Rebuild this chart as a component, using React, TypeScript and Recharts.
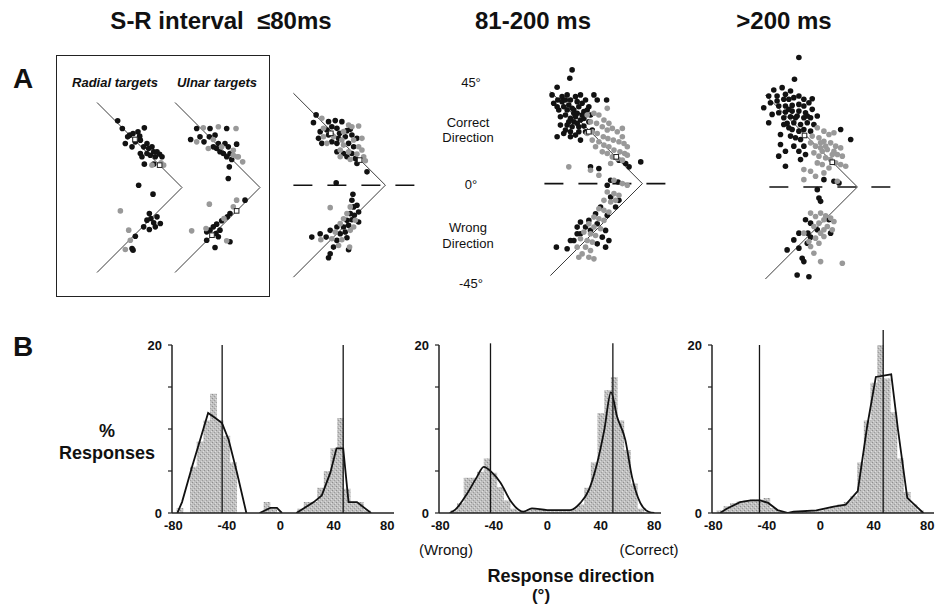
import React from 'react';
import {
  ScatterChart,
  Scatter,
  XAxis,
  YAxis,
  ComposedChart,
  Area,
  Line,
  ReferenceLine,
} from 'recharts';

const FONT = "'Liberation Sans', Arial, Helvetica, sans-serif";

// ---------- Panel A: response endpoints (arm units: V arms run from (0,±100) to apex (100,0)) ----------
const vLine: [number, number][] = [[0, 100], [100, 0], [0, -100]];

const radialBlack: [number, number][] = [
  [24.3, 78.4], [29.8, 69.4], [36.1, 59.6], [38.4, 61.6], [42.4, 63.5], [48.2, 65.5], [50.2, 60.4], [51.0, 55.7],
  [55.7, 70.2], [54.9, 47.8], [58.8, 51.8], [60.8, 45.9], [64.7, 47.8], [66.7, 42.0], [70.6, 42.0], [58.8, 40.0],
  [62.7, 38.0], [68.6, 36.1], [73.7, 39.2], [76.5, 36.1], [51.0, 40.0], [52.9, 36.1], [55.7, 27.5], [66.7, 27.5],
  [33.3, 51.8], [41.2, 47.8], [45.1, 53.7], [49.0, 2.7], [65.9, -7.8], [61.6, -30.6], [63.5, -36.5], [58.8, -38.4],
  [66.7, -41.6], [61.6, -49.4], [54.9, -46.3], [68.6, -46.3], [74.5, -42.4], [70.6, -34.5], [45.1, -57.3],
  [41.2, -71.8], [42.4, -73.7],
];
const radialGray: [number, number][] = [
  [64.7, 26.3], [75.3, 29.0], [78.4, 26.3], [27.5, -27.5], [37.3, -50.2], [39.2, -62.0], [33.3, -72.9],
];
const radialOpen: [number, number][] = [[44.7, 56.5], [73.7, 26.3]];

const ulnarBlack: [number, number][] = [
  [25.5, 69.4], [41.2, 69.4], [60.8, 69.4], [18.4, 56.5], [29.4, 59.6], [34.1, 53.7], [40.4, 59.6], [47.1, 61.6],
  [51.0, 51.8], [58.8, 51.8], [62.7, 47.8], [72.5, 51.0], [49.0, 45.9], [45.1, 47.8], [52.9, 42.0], [56.9, 40.0],
  [64.7, 40.0], [60.8, 36.1], [66.7, 32.9], [63.9, 24.3], [62.7, 10.6], [82.4, -14.9], [64.7, -30.6], [61.6, -34.5],
  [54.9, -39.2], [49.0, -43.1], [45.1, -46.3], [41.2, -50.2], [37.3, -52.2], [48.2, -54.1], [52.9, -50.2],
  [51.0, -58.0], [37.3, -62.0], [64.7, -63.9], [47.1, -70.6],
];
const ulnarGray: [number, number][] = [
  [33.3, 70.2], [51.0, 71.4], [71.8, 69.4], [25.5, 53.7], [45.1, 56.5], [54.9, 47.8], [68.6, 43.9], [39.2, 45.9],
  [68.6, 38.0], [74.5, 36.1], [79.6, 30.2], [73.3, 36.1], [40.4, -19.6], [72.5, -14.9], [68.6, -22.7],
  [57.6, -36.5], [36.5, -48.2], [19.6, -51.0], [60.8, -62.7],
];
const ulnarOpen: [number, number][] = [[72.5, -27.5], [43.5, -56.1]];

const early80Black: [number, number][] = [
  [24.7, 76.4], [21.8, 68.0], [38.2, 69.1], [45.5, 70.2], [52.7, 69.1], [29.1, 58.2], [36.4, 60.0], [41.8, 63.6],
  [47.3, 61.8], [50.2, 56.4], [58.2, 59.3], [61.8, 60.7], [27.3, 50.9], [38.2, 54.5], [49.1, 50.9], [56.4, 52.7],
  [63.6, 54.5], [69.1, 50.9], [30.9, 45.5], [41.8, 47.3], [47.3, 45.5], [60.0, 45.5], [65.5, 41.8], [47.3, 36.4],
  [54.5, 34.5], [63.6, 34.5], [67.3, 29.1], [58.2, 30.9], [69.1, 23.6], [80.0, 14.5], [46.5, 2.5], [64.7, -9.8],
  [63.6, -16.4], [65.5, -23.6], [69.1, -21.8], [61.8, -30.9], [66.2, -32.7], [70.9, -29.1], [58.2, -38.2],
  [63.6, -37.5], [70.9, -40.0], [47.3, -45.5], [54.5, -45.5], [60.0, -43.6], [40.0, -49.1], [50.9, -52.7],
  [56.4, -50.9], [29.1, -52.7], [35.6, -56.4], [47.3, -60.0], [58.2, -57.1], [20.0, -56.4], [43.6, -67.3],
  [40.0, -74.5], [38.2, -78.9], [60.0, -70.2],
];
const early80Gray: [number, number][] = [
  [30.9, 72.7], [60.0, 65.5], [32.7, 61.8], [54.5, 58.2], [63.6, 63.6], [70.9, 64.4], [32.7, 52.7], [43.6, 52.7],
  [52.7, 49.1], [65.5, 49.1], [74.5, 50.9], [36.4, 45.5], [54.5, 43.6], [70.9, 41.8], [74.5, 38.2], [50.9, 38.2],
  [60.0, 36.4], [69.1, 33.8], [76.4, 30.9], [61.8, 28.0], [78.2, 26.5], [50.9, 30.9], [40.0, -24.4], [61.8, -23.6],
  [58.2, -30.9], [54.5, -36.4], [67.3, -38.2], [50.9, -41.8], [65.5, -45.5], [45.5, -50.9], [61.8, -49.1],
  [41.8, -58.2], [52.7, -59.3], [29.8, -59.3], [49.1, -65.5], [61.1, -67.3],
];
const early80Open: [number, number][] = [[40.7, 56.4], [72.0, 27.3]];
const early80Zero: [number, number][] = [[0, 0], [133, 0]];

const mid200Black: [number, number][] = [
  [23.6, 123.6], [21.1, 114.5], [7.3, 104.7], [1.8, 96.4], [3.6, 87.3], [8, 90.9], [12.7, 94.5], [18.2, 96.4],
  [21.8, 90.9], [27.3, 94.5], [32.7, 96.4], [38.2, 90.9], [47.3, 96.4], [61.1, 90.9], [50.9, 90.9], [9.1, 80],
  [14.5, 83.6], [20, 85.5], [25.5, 80], [30.9, 83.6], [36.4, 78.2], [41.8, 83.6], [10.9, 72.7], [16.4, 74.5],
  [21.8, 70.9], [27.3, 72.7], [32.7, 69.1], [18.2, 63.6], [23.6, 61.8], [29.1, 65.5], [36.4, 62.5], [14.5, 54.5],
  [21.8, 50.9], [30.9, 56.4], [38.2, 56.4], [25.5, 76.4], [18.2, 80], [29.1, 89.1], [34.5, 87.3], [12.7, 89.1],
  [7.3, 83.6], [43.6, 74.5], [21.8, 56.4], [45.5, 58.2], [36.4, 70.9], [41.8, 67.3], [7.3, 50.9], [32.7, 47.3],
  [16.4, 90.9], [23.6, 81.8], [29.1, 76.4], [34.5, 74.5], [40, 80], [20, 67.3], [25.5, 67.3], [30.9, 61.8],
  [10.9, 63.6], [16.4, 58.2], [27.3, 52.7],
  [74.5, 25.5], [81.8, 21.8], [85.5, 18.2], [98.2, 23.6], [69.8, 29.1], [65.5, 3.6], [61.8, -1.8], [73.5, 1.8],
  [43.6, 18.2], [52.7, 16.4],
  [65.5, -14.5], [70.9, -25.5], [74.5, -18.2], [61.8, -34.5], [49.1, -32.7], [54.5, -25.5], [41.8, -40],
  [32.7, -41.8], [29.1, -47.3], [38.2, -47.3], [50.9, -43.6], [60, -50.9], [56.4, -58.2], [50.9, -65.5],
  [43.6, -50.9], [32.7, -54.5], [25.5, -61.8], [21.8, -61.8], [18.2, -70.9], [6.5, -69.1], [29.1, -54.5],
  [60, -69.1], [63.6, -61.8],
];
const mid200Gray: [number, number][] = [
  [40, 74.5], [47.3, 76.4], [52.7, 74.5], [58.2, 69.1], [63.6, 65.5], [43.6, 67.3], [50.2, 65.5], [56.4, 61.8],
  [61.8, 58.2], [67.3, 60], [72.7, 56.4], [78.2, 60], [45.5, 56.4], [50.9, 54.5], [57.5, 50.9], [62.5, 49.1],
  [68.4, 47.3], [74.5, 45.5], [80, 43.6], [83.6, 40], [52.7, 45.5], [58.2, 41.8], [63.6, 40], [69.1, 36.4],
  [75.6, 34.5], [80.7, 32.7], [49.1, 40], [56.4, 34.5], [61.8, 32.7], [67.3, 29.1], [72.7, 27.3], [78.2, 25.5],
  [65.5, 21.8], [40, 54.5], [45.5, 47.3], [83.6, 30.9], [61.8, 81.8], [78.2, 50.9], [20, 18.2], [43.6, 14.5],
  [52.7, 9.1],
  [69.1, 3.6], [78.2, 0], [83.6, -1.8], [61.8, -9.1], [69.1, -10.9], [74.5, -12.7], [58.2, -18.2], [65.5, -20],
  [70.9, -18.2], [52.7, -27.3], [58.2, -29.1], [63.6, -30.9], [47.3, -36.4], [52.7, -38.2], [58.2, -40],
  [41.8, -43.6], [47.3, -47.3], [54.5, -49.1], [36.4, -52.7], [43.6, -54.5], [49.1, -56.4], [32.7, -60],
  [40, -61.8], [45.5, -63.6], [38.2, -69.1], [43.6, -72.7], [34.5, -76.4], [41.8, -80], [47.3, -81.8],
  [29.1, -69.1], [30.9, -80],
];
const mid200Open: [number, number][] = [[41.8, 56.4], [71.6, 29.1]];
const mid200Zero: [number, number][] = [[-6.5, 0], [127, 0]];

const late200Black: [number, number][] = [
  [36.4, 140.7], [31.6, 117.1], [18.2, 108], [9.1, 105.5], [3.6, 98.9], [12.7, 98.9], [21.8, 100.7], [27.3, 104.4],
  [-1.8, 86.2], [5.5, 91.6], [12.7, 93.5], [20, 95.3], [25.5, 95.3], [30.9, 97.1], [36.4, 98.9], [41.8, 95.3],
  [50.9, 96], [47.3, 91.6], [41.8, 88], [36.4, 89.8], [29.1, 88.7], [21.8, 88], [14.5, 88], [7.3, 78.9],
  [14.5, 80.7], [21.8, 81.5], [29.1, 82.5], [36.4, 82.5], [43.6, 80.7], [50.9, 84.4], [56.4, 77.1], [49.1, 75.3],
  [41.8, 75.3], [34.5, 77.1], [27.3, 76.4], [20, 75.3], [3.6, 69.8], [23.6, 69.1], [30.9, 69.8], [38.2, 68],
  [45.5, 69.8], [52.7, 68], [29.1, 62.5], [36.4, 60.7], [41.8, 62.5], [49.1, 60.7], [16.4, 57.1], [27.3, 55.3],
  [32.7, 53.5], [38.2, 51.6], [41.8, 44.4], [36.4, 38.9], [30.9, 44.4], [16.4, 46.2], [14.5, 33.5], [21.8, 22.5],
  [38.2, 29.8], [43.6, 35.3], [21.8, 38.9], [25.5, 84.4], [32.7, 75.3], [25.5, 64.4], [20, 68], [45.5, 77.1],
  [81.8, 62.5], [92.7, 51.6],
  [63.6, 8], [74.5, 6.2], [80, 4.4], [56.4, -2.9], [58.2, -12], [60, -15.6],
  [43.6, -35.6], [49.1, -39.3], [69.1, -35.6], [56.4, -46.5], [46.2, -50.2], [49.1, -54.5], [70.9, -50.2],
  [36.4, -50.2], [30.9, -57.5], [23.6, -68.4], [36.4, -66.5], [40, -77.5], [41.8, -81.1], [45.5, -61.1],
  [34.5, -95.6], [47.3, -97.5],
];
const late200Gray: [number, number][] = [
  [56.4, 64.4], [63.6, 60.7], [69.1, 57.1], [74.5, 58.9], [50.9, 55.3], [58.2, 53.5], [63.6, 49.8], [70.9, 48],
  [76.4, 44.4], [81.8, 42.5], [49.1, 48], [54.5, 44.4], [60, 42.5], [67.3, 40.7], [72.7, 35.3], [78.2, 35.3],
  [83.6, 33.5], [52.7, 37.1], [58.2, 33.5], [65.5, 31.6], [70.9, 29.8], [76.4, 26.2], [81.8, 24.4], [56.4, 26.2],
  [61.8, 24.4], [69.1, 20.7], [41.8, 18.9], [49.1, 17.1], [63.6, 15.3], [78.2, 6.2], [87.3, 22.5], [41.8, 8],
  [54.5, 11.6], [61.8, 38.9], [74.5, 38.9], [60, 48], [65.5, 44.4],
  [49.1, -28.4], [54.5, -32], [60, -28.4], [65.5, -31.3], [70.9, -33.8], [63.6, -35.6], [74.5, -37.5],
  [58.2, -39.3], [67.3, -42.9], [72.7, -46.5], [52.7, -42.9], [63.6, -46.5], [60, -50.2], [54.5, -55.6],
  [63.6, -53.8], [58.2, -61.1], [49.1, -64.7], [52.7, -72], [60, -81.1], [83.6, -82.9], [41.8, -50.2],
  [47.3, -59.3],
];
const late200Open: [number, number][] = [[42.5, 56], [72.7, 26.9]];
const late200Zero: [number, number][] = [[4.3, 0], [138, 0]];

// ---------- Panel B: histograms (% responses vs response direction, deg; 5° bins by centre) ----------
const xTicks = [-80, -40, 0, 40, 80];
const yTicks = [0, 5, 10, 15, 20];

const hist80 = [
  { x: -80, v: 0 }, { x: -75, v: 0.6 }, { x: -70, v: 0 }, { x: -65, v: 5.5 }, { x: -60, v: 8.5 }, { x: -55, v: 11 },
  { x: -50, v: 14.2 }, { x: -45, v: 11 }, { x: -40, v: 9.2 }, { x: -35, v: 6 }, { x: -30, v: 0 },
  { x: -25, v: 0 }, { x: -20, v: 0 }, { x: -15, v: 0 }, { x: -10, v: 1.3 }, { x: -5, v: 0.5 },
  { x: 0, v: 0 }, { x: 5, v: 0 }, { x: 10, v: 0 }, { x: 15, v: 0.5 }, { x: 20, v: 1.3 }, { x: 25, v: 1.3 },
  { x: 30, v: 3 }, { x: 35, v: 5 }, { x: 40, v: 7.7 }, { x: 45, v: 11.3 }, { x: 50, v: 2.9 }, { x: 55, v: 1.3 },
  { x: 60, v: 1.3 }, { x: 65, v: 0.3 }, { x: 70, v: 0 },
];
const fit80 = [
  { x: -77, v: 0 }, { x: -73.5, v: 1.3 }, { x: -66, v: 5.5 }, { x: -60, v: 8.7 }, { x: -54, v: 11.9 },
  { x: -48.6, v: 11.3 }, { x: -43.6, v: 10.7 }, { x: -38.6, v: 8.7 }, { x: -32.4, v: 4.8 }, { x: -25.4, v: 0 },
  { x: -20, v: null },
  { x: -15.5, v: 0 }, { x: -7.5, v: 0.6 }, { x: -2.5, v: 0.6 }, { x: 1.2, v: 0 },
  { x: 6, v: null },
  { x: 12, v: 0 }, { x: 25, v: 1.3 }, { x: 31, v: 2.1 }, { x: 37.4, v: 4.8 }, { x: 42, v: 7.7 }, { x: 47, v: 7.7 },
  { x: 51, v: 1.3 }, { x: 57.3, v: 1.3 }, { x: 67.8, v: 0 },
];
const target80 = [{ x: -43.5, top: 20 }, { x: 47, top: 20 }];

const hist200 = [
  { x: -75, v: 0 }, { x: -70, v: 0.3 }, { x: -65, v: 1.2 }, { x: -60, v: 4.2 }, { x: -55, v: 4.2 }, { x: -50, v: 4.9 },
  { x: -45, v: 6.5 }, { x: -40, v: 4.8 }, { x: -35, v: 3.1 }, { x: -30, v: 1.5 }, { x: -25, v: 0.5 },
  { x: -20, v: 0.2 }, { x: -15, v: 0.3 }, { x: -10, v: 0.6 }, { x: -5, v: 0.4 }, { x: 0, v: 0.3 },
  { x: 5, v: 0.3 }, { x: 10, v: 0.3 }, { x: 15, v: 0.3 }, { x: 20, v: 0.5 }, { x: 25, v: 1 }, { x: 30, v: 3 },
  { x: 35, v: 6 }, { x: 40, v: 11.9 }, { x: 45, v: 14.6 }, { x: 50, v: 16.2 }, { x: 55, v: 11 }, { x: 60, v: 7.5 },
  { x: 65, v: 3.5 }, { x: 70, v: 0.5 }, { x: 75, v: 0 },
];
const fit200 = [
  { x: -73, v: 0 }, { x: -68.8, v: 0.4 }, { x: -60, v: 2.3 }, { x: -52.6, v: 4.3 }, { x: -47.6, v: 5.5 },
  { x: -41.3, v: 4.8 }, { x: -35, v: 3.6 }, { x: -27.7, v: 1.5 }, { x: -21.5, v: 0.4 }, { x: -17.9, v: 0.15 },
  { x: -11.5, v: 0.55 }, { x: 0, v: 0.35 }, { x: 17.2, v: 0.35 }, { x: 24.7, v: 1.2 }, { x: 30.9, v: 2.7 },
  { x: 37.2, v: 5.9 }, { x: 42.6, v: 9.9 }, { x: 47.6, v: 14.4 }, { x: 52.1, v: 11.5 }, { x: 58.3, v: 8.7 },
  { x: 63.3, v: 4.3 }, { x: 69.5, v: 1.2 }, { x: 75.7, v: 0.15 }, { x: 80, v: 0 },
];
const target200 = [{ x: -42.5, top: 20.2 }, { x: 49, top: 20.2 }];

const histLate = [
  { x: -80, v: 0 }, { x: -75, v: 0.3 }, { x: -70, v: 0.8 }, { x: -65, v: 1.2 }, { x: -60, v: 1.4 }, { x: -55, v: 1.5 },
  { x: -50, v: 1.6 }, { x: -45, v: 1.6 }, { x: -40, v: 1.8 }, { x: -35, v: 0.6 }, { x: -30, v: 0.2 },
  { x: -25, v: 0.1 }, { x: -20, v: 0.15 }, { x: -15, v: 0.2 }, { x: -10, v: 0.2 }, { x: -5, v: 0.3 },
  { x: 0, v: 0.3 }, { x: 5, v: 0.5 }, { x: 10, v: 0.8 }, { x: 15, v: 1 }, { x: 20, v: 1.3 }, { x: 25, v: 2 },
  { x: 30, v: 6 }, { x: 35, v: 11 }, { x: 40, v: 15.5 }, { x: 45, v: 20 }, { x: 50, v: 16 }, { x: 55, v: 12 },
  { x: 60, v: 6.5 }, { x: 65, v: 2.5 }, { x: 70, v: 1 }, { x: 75, v: 0.3 }, { x: 80, v: 0 },
];
const fitLate = [
  { x: -75, v: 0 }, { x: -70, v: 0.5 }, { x: -60, v: 1.3 }, { x: -52, v: 1.5 }, { x: -45, v: 1.5 },
  { x: -39, v: 1.2 }, { x: -32, v: 0.35 }, { x: -24, v: 0 }, { x: -20, v: 0.15 }, { x: -3, v: 0.3 },
  { x: 10, v: 0.75 }, { x: 19, v: 1.0 }, { x: 28, v: 2.6 }, { x: 35, v: 10.3 }, { x: 41.5, v: 16.2 },
  { x: 53, v: 16.5 }, { x: 58, v: 10 }, { x: 65, v: 1.8 }, { x: 77, v: 0 },
];
const targetLate = [{ x: -45.5, top: 20 }, { x: 47, top: 22 }];

// ---------- helpers ----------
const pts = (arr: [number, number][]) => arr.map(([x, y]) => ({ x, y }));

const BlackDot = (p: any) => <circle cx={p.cx} cy={p.cy} r={2.8} fill="#121212" />;
const GrayDot = (p: any) => <circle cx={p.cx} cy={p.cy} r={2.8} fill="#999999" />;
const OpenSq = (p: any) => (
  <rect x={p.cx - 2.3} y={p.cy - 2.3} width={4.6} height={4.6} fill="#fff" stroke="#222" strokeWidth={1} />
);
const NoDot = () => <g />;

type VProps = {
  left: number;
  top: number;
  scale: number;
  xDomain: [number, number];
  yDomain: [number, number];
  black: [number, number][];
  gray: [number, number][];
  open: [number, number][];
  zero?: [number, number][];
};

function VPlot({ left, top, scale, xDomain, yDomain, black, gray, open, zero }: VProps) {
  const w = (xDomain[1] - xDomain[0]) * scale;
  const h = (yDomain[1] - yDomain[0]) * scale;
  return (
    <div style={{ position: 'absolute', left, top }}>
      <ScatterChart width={w} height={h} margin={{ top: 0, right: 0, bottom: 0, left: 0 }}>
        <XAxis type="number" dataKey="x" domain={xDomain} allowDataOverflow hide />
        <YAxis type="number" dataKey="y" domain={yDomain} allowDataOverflow hide />
        <Scatter
          data={pts(vLine)}
          line={{ stroke: '#3a3a3a', strokeWidth: 1 }}
          shape={NoDot}
          isAnimationActive={false}
        />
        {zero && (
          <Scatter
            data={pts(zero)}
            line={{ stroke: '#111', strokeWidth: 1.6, strokeDasharray: '19 15' }}
            shape={NoDot}
            isAnimationActive={false}
          />
        )}
        <Scatter data={pts(black)} shape={BlackDot} isAnimationActive={false} />
        <Scatter data={pts(gray)} shape={GrayDot} isAnimationActive={false} />
        <Scatter data={pts(open)} shape={OpenSq} isAnimationActive={false} />
      </ScatterChart>
    </div>
  );
}

const DEG = 1.3375;
const X_DOMAIN: [number, number] = [-81, 85];
const PLOT_W = (X_DOMAIN[1] - X_DOMAIN[0]) * DEG;
const YW = 40;

type HProps = {
  id: string;
  zeroX: number;
  bars: { x: number; v: number }[];
  fit: { x: number; v: number | null }[];
  targets: { x: number; top: number }[];
  curveType: 'linear' | 'monotone';
};

function Hist({ id, zeroX, bars, fit, targets, curveType }: HProps) {
  const plotLeft = zeroX + X_DOMAIN[0] * DEG;
  const tickStyle = { fontSize: 13, fontWeight: 700, fill: '#111', fontFamily: FONT };
  return (
    <div style={{ position: 'absolute', left: plotLeft - YW, top: 330 }}>
      <ComposedChart
        width={YW + PLOT_W + 4}
        height={15 + 168 + 30}
        data={bars}
        margin={{ top: 15, right: 4, bottom: 0, left: 0 }}
      >
        <defs>
          <pattern id={id} width="4" height="4" patternUnits="userSpaceOnUse">
            <rect width="4" height="4" fill="#bfbfbf" />
            <rect x="0" y="0" width="1" height="1" fill="#8e8e8e" />
            <rect x="2" y="2" width="1" height="1" fill="#9c9c9c" />
            <rect x="3" y="1" width="1" height="1" fill="#dedede" />
            <rect x="1" y="3" width="1" height="1" fill="#d8d8d8" />
          </pattern>
        </defs>
        <XAxis
          type="number"
          dataKey="x"
          domain={X_DOMAIN}
          allowDataOverflow
          ticks={xTicks}
          interval={0}
          tickLine={false}
          axisLine={{ stroke: '#222', strokeWidth: 1.5 }}
          tick={tickStyle}
          height={30}
          tickSize={6}
          tickMargin={2}
        />
        <YAxis
          type="number"
          domain={[0, 20]}
          allowDataOverflow
          ticks={yTicks}
          interval={0}
          width={YW}
          tickSize={4}
          tickMargin={6}
          tickFormatter={(v: number) => (v === 0 || v === 20 ? String(v) : '')}
          axisLine={{ stroke: '#222', strokeWidth: 1.5 }}
          tickLine={{ stroke: '#222', strokeWidth: 1.2 }}
          tick={tickStyle}
        />
        <Area
          dataKey="v"
          type="step"
          fill={`url(#${id})`}
          fillOpacity={1}
          stroke="none"
          isAnimationActive={false}
        />
        {targets.map((t) => (
          <ReferenceLine
            key={t.x}
            segment={[{ x: t.x, y: 0 }, { x: t.x, y: t.top }]}
            stroke="#151515"
            strokeWidth={1.3}
            ifOverflow="visible"
          />
        ))}
        <Line
          data={fit}
          dataKey="v"
          type={curveType}
          stroke="#111"
          strokeWidth={1.8}
          dot={false}
          connectNulls={false}
          isAnimationActive={false}
        />
      </ComposedChart>
    </div>
  );
}

type LProps = {
  x: number;
  y: number;
  children: React.ReactNode;
  size: number;
  bold?: boolean;
  italic?: boolean;
};
function Label({ x, y, children, size, bold, italic }: LProps) {
  return (
    <div
      style={{
        position: 'absolute',
        left: x,
        top: y,
        transform: 'translate(-50%, -50%)',
        fontFamily: FONT,
        fontSize: size,
        fontWeight: bold ? 700 : 400,
        fontStyle: italic ? 'italic' : 'normal',
        whiteSpace: 'pre',
        color: '#111',
        lineHeight: 1,
      }}
    >
      {children}
    </div>
  );
}

export default function App() {
  return (
    <div style={{ position: 'absolute', left: 0, top: 0, width: 948, height: 606, background: '#fff', overflow: 'hidden' }}>
      {/* titles */}
      <Label x={221} y={21} size={24} bold>{'S-R interval  ≤80ms'}</Label>
      <Label x={533} y={21} size={24} bold>81-200 ms</Label>
      <Label x={784} y={21} size={24} bold>{'>200 ms'}</Label>
      <Label x={23} y={79} size={28} bold>A</Label>
      <Label x={23} y={347} size={28} bold>B</Label>

      {/* panel A box */}
      <div style={{ position: 'absolute', left: 56, top: 55, width: 212, height: 240, border: '1.5px solid #222' }} />
      <Label x={115} y={82} size={13} bold italic>Radial targets</Label>
      <Label x={217} y={82} size={13} bold italic>Ulnar targets</Label>

      <VPlot left={80} top={93.5} scale={0.85} xDomain={[-20, 110]} yDomain={[-110, 110]}
        black={radialBlack} gray={radialGray} open={radialOpen} />
      <VPlot left={158} top={93.5} scale={0.85} xDomain={[-20, 110]} yDomain={[-110, 110]}
        black={ulnarBlack} gray={ulnarGray} open={ulnarOpen} />
      <VPlot left={274.6} top={83.8} scale={0.92} xDomain={[-20, 140]} yDomain={[-110, 110]}
        black={early80Black} gray={early80Gray} open={early80Open} zero={early80Zero} />
      <VPlot left={531.6} top={63.7} scale={0.92} xDomain={[-20, 140]} yDomain={[-110, 130]}
        black={mid200Black} gray={mid200Gray} open={mid200Open} zero={mid200Zero} />
      <VPlot left={746.6} top={49.3} scale={0.92} xDomain={[-20, 145]} yDomain={[-110, 150]}
        black={late200Black} gray={late200Gray} open={late200Open} zero={late200Zero} />

      {/* middle direction labels */}
      <Label x={471} y={82} size={13}>45°</Label>
      <Label x={468} y={122} size={13}>Correct</Label>
      <Label x={468} y={137} size={13}>Direction</Label>
      <Label x={471} y={184} size={13}>0°</Label>
      <Label x={468} y={227} size={13}>Wrong</Label>
      <Label x={468} y={243} size={13}>Direction</Label>
      <Label x={471} y={283} size={13}>-45°</Label>

      {/* panel B */}
      <Label x={107} y={431} size={18} bold>%</Label>
      <Label x={107} y={453} size={18} bold>Responses</Label>

      <Hist id="stip1" zeroX={280} bars={hist80} fit={fit80} targets={target80} curveType="linear" />
      <Hist id="stip2" zeroX={547} bars={hist200} fit={fit200} targets={target200} curveType="monotone" />
      <Hist id="stip3" zeroX={820} bars={histLate} fit={fitLate} targets={targetLate} curveType="linear" />

      <Label x={446} y={549} size={15}>(Wrong)</Label>
      <Label x={649} y={549} size={15}>(Correct)</Label>
      <Label x={571} y={576} size={18} bold>Response direction</Label>
      <Label x={541} y={595} size={17} bold>(°)</Label>
    </div>
  );
}
